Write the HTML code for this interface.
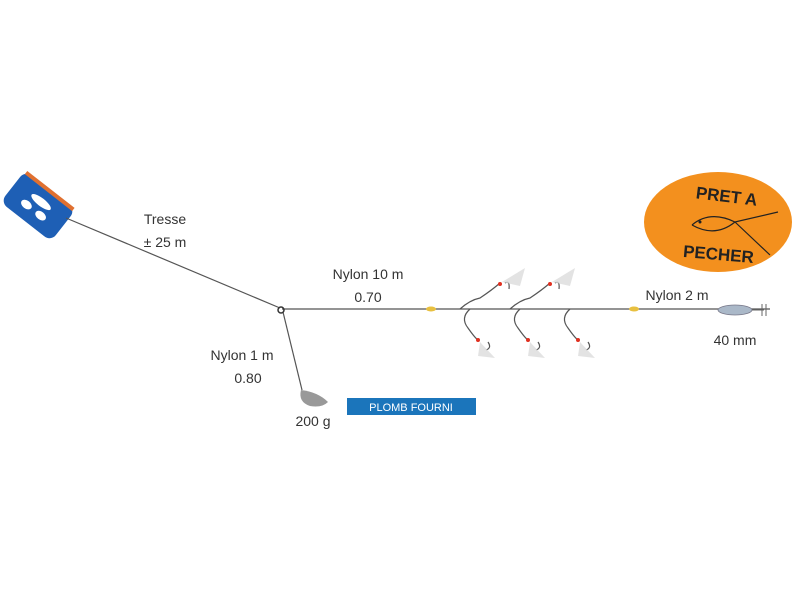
<!DOCTYPE html>
<html><head><style>
body{margin:0;background:#fff;width:800px;height:600px;overflow:hidden}
svg text{font-family:"Liberation Sans",sans-serif}
</style></head><body>
<svg width="800" height="600" viewBox="0 0 800 600" xmlns="http://www.w3.org/2000/svg">
<g transform="translate(38,206) rotate(38)">
<rect x="-32" y="-20" width="64" height="40" rx="8" fill="#1e5fb5"/>
<rect x="-30" y="-21" width="60" height="4" fill="#e07030"/>
<ellipse cx="-10" cy="6" rx="6" ry="4" fill="#fff"/>
<ellipse cx="8" cy="6" rx="6" ry="4" fill="#fff"/>
<ellipse cx="0" cy="-5" rx="12" ry="4" fill="#fff"/>
</g>
<g stroke="#555" stroke-width="1.2" fill="none">
<line x1="66" y1="218" x2="280" y2="308"/>
<line x1="282" y1="309" x2="770" y2="309"/>
<line x1="283" y1="312" x2="302" y2="390"/>
<path d="M460 309 Q470 300 480 298 Q492 290 500 283"/>
<path d="M510 309 Q520 300 530 298 Q542 290 550 283"/>
<path d="M470 309 Q460 318 468 328 Q475 338 478 340"/>
<path d="M520 309 Q510 318 518 328 Q525 338 528 340"/>
<path d="M570 309 Q560 318 568 328 Q575 338 578 340"/>
<path d="M505 283 q5 -3 4 6 M555 283 q5 -3 4 6 M488 342 q4 6 -2 8 M538 342 q4 6 -2 8 M588 342 q4 6 -2 8"/>
</g>
<g fill="#ddd" opacity="0.8">
<path d="M502 282 L525 268 L520 286 Z"/><path d="M552 282 L575 268 L570 286 Z"/>
<path d="M480 342 L495 358 L478 356 Z"/><path d="M530 342 L545 358 L528 356 Z"/><path d="M580 342 L595 358 L578 356 Z"/>
</g>
<g fill="#e03020"><circle cx="500" cy="284" r="2"/><circle cx="550" cy="284" r="2"/><circle cx="478" cy="340" r="2"/><circle cx="528" cy="340" r="2"/><circle cx="578" cy="340" r="2"/></g>
<ellipse cx="431" cy="309" rx="5" ry="2.5" fill="#e8c040"/>
<ellipse cx="634" cy="309" rx="5" ry="2.5" fill="#e8c040"/>
<circle cx="281" cy="310" r="3" fill="none" stroke="#333" stroke-width="1.5"/>
<ellipse cx="735" cy="310" rx="17" ry="5" fill="#aab8c8" stroke="#778" stroke-width="0.8"/>
<path d="M752 310 h12 M762 304 v12 M766 304 v12" stroke="#666" fill="none"/>
<path d="M301 390 Q318 392 328 402 Q322 408 310 406 Q298 402 301 390 Z" fill="#999"/>
<ellipse cx="718" cy="222" rx="74" ry="50" fill="#f3901e"/>
<text x="726" y="202" font-size="17" font-weight="bold" text-anchor="middle" fill="#222" transform="rotate(7 726 202)">PRET A</text>
<text x="718" y="260" font-size="17" font-weight="bold" text-anchor="middle" fill="#222" transform="rotate(5 718 260)">PECHER</text>
<path d="M692 225 Q710 210 735 222 L778 212 M735 222 Q715 238 692 225 M735 222 L770 255" stroke="#222" fill="none" stroke-width="1.2"/>
<circle cx="700" cy="222" r="1.5" fill="#222"/>
<rect x="347" y="398" width="129" height="17" fill="#1b75bb"/>
<text x="411" y="411" font-size="11" fill="#fff" text-anchor="middle">PLOMB FOURNI</text>
<g font-size="14" fill="#333" text-anchor="middle">
<text x="165" y="224">Tresse</text>
<text x="165" y="247">± 25 m</text>
<text x="368" y="279">Nylon 10 m</text>
<text x="368" y="302">0.70</text>
<text x="242" y="360">Nylon 1 m</text>
<text x="248" y="383">0.80</text>
<text x="313" y="426">200 g</text>
<text x="677" y="300">Nylon 2 m</text>
<text x="735" y="345">40 mm</text>
</g>
</svg>
</body></html>
